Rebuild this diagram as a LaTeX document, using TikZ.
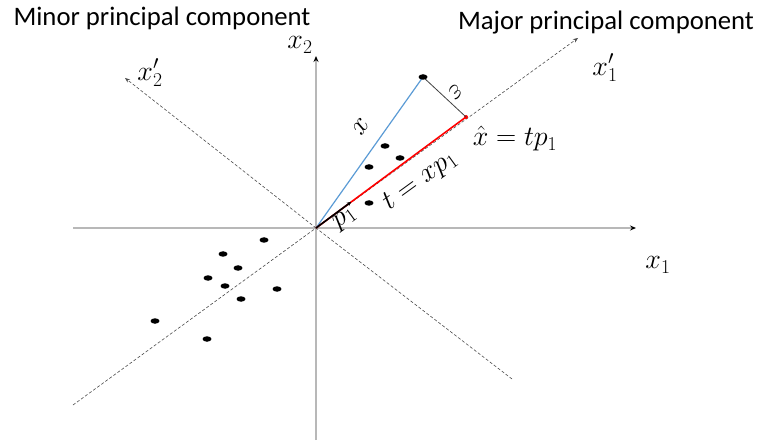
\RequirePackage{fix-cm}
\documentclass[tikz,border=0pt]{standalone}
\usepackage{fontspec}
\setmainfont{Carlito}
\usetikzlibrary{arrows.meta,shapes.geometric}
\begin{document}
\begin{tikzpicture}[x=1pt,y=-1pt,
  axis/.style={draw=black!28,line width=1.4pt},
  paxis/.style={draw=black!70,line width=0.6pt,dash pattern=on 3pt off 2pt},
  datadot/.style={fill=black,ellipse,inner sep=0pt,minimum width=9pt,minimum height=5.5pt},
  mathlbl/.style={font=\fontsize{28}{32}\selectfont,inner sep=0pt},
  title/.style={font=\fontsize{26.7}{30}\selectfont,inner sep=0pt}]
\useasboundingbox (0,0) rectangle (759,443);
% coordinates
\coordinate (O) at (316,228);
\coordinate (x1L) at (73,228);
\coordinate (x1R) at (636,228);
\coordinate (x2B) at (316,440);
\coordinate (x2T) at (316,56);
\coordinate (pmL) at (73,405);
\coordinate (pmR) at (578,38);
\coordinate (pnL) at (125,78);
\coordinate (pnR) at (512,379);
\coordinate (xp) at (423,77);
\coordinate (xh) at (466,117);
\coordinate (p1) at (351,202);
% axes
\draw[axis] (x1L) -- (O);
\draw[axis,-{Stealth[length=6pt,width=5pt,black]}] (O) -- (x1R);
\draw[axis] (x2B) -- (O);
\draw[axis,-{Stealth[length=6pt,width=5pt,black]}] (O) -- (x2T);
% principal axes
\draw[paxis] (pmL) -- (O);
\draw[paxis,-{Stealth[length=5pt,width=4pt]}] (O) -- (pmR);
\draw[paxis] (pnR) -- (O);
\draw[paxis,-{Stealth[length=5pt,width=4pt]}] (O) -- (pnL);
% vectors
\draw[color={rgb,255:red,91;green,155;blue,213},line width=1.2pt] (O) -- (xp);
\draw[red,line width=1.6pt] (O) -- (xh);
\fill[red] (xh) circle (2pt);
\draw[black!75,line width=0.8pt] (xp) -- (xh);
\draw[black,line width=1.6pt,-{Stealth[length=4pt,width=4pt]}] (O) -- (p1);
% data points
\node[datadot] (d0) at (xp) {};
\node[datadot] (d1) at (385,146) {};
\node[datadot] (d2) at (369,167) {};
\node[datadot] (d3) at (400,158) {};
\node[datadot] (d4) at (369,203) {};
\node[datadot] (d5) at (264,240) {};
\node[datadot] (d6) at (223,254) {};
\node[datadot] (d7) at (238,268) {};
\node[datadot] (d8) at (208,278) {};
\node[datadot] (d9) at (225,286) {};
\node[datadot] (d10) at (277,289) {};
\node[datadot] (d11) at (241,299) {};
\node[datadot] (d12) at (155,321) {};
\node[datadot] (d13) at (207,339) {};
% labels
\node[title] (tmin) at (162,18) {Minor principal component};
\node[title] (tmaj) at (606,23) {Major principal component};
\node[mathlbl] (lx2) at (300,45) {$x_2$};
\node[mathlbl] (lx2p) at (150,73) {$x_2'$};
\node[mathlbl] (lx1p) at (605,68) {$x_1'$};
\node[mathlbl] (lx1) at (658,265) {$x_1$};
\node[mathlbl] (lxh) at (515,139) {$\hat{x} = tp_1$};
\node[mathlbl,rotate=36] (lt) at (420,181) {$t = xp_1$};
\node[mathlbl,rotate=36] (lp1) at (345,219) {$p_1$};
\node[mathlbl,rotate=55] (lx) at (361,127) {$x$};
\node[mathlbl,rotate=-135] (leps) at (455,92) {$\varepsilon$};
\end{tikzpicture}
\end{document}
